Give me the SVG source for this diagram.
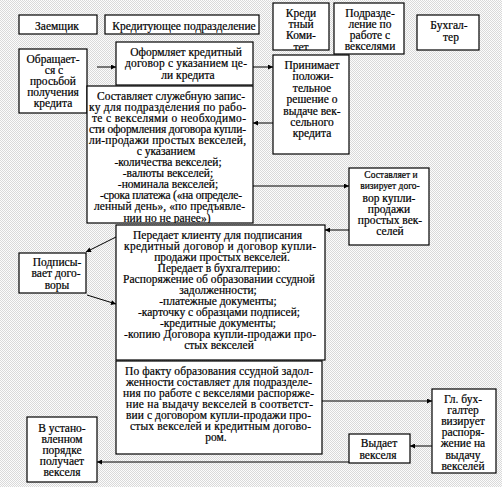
<svg xmlns="http://www.w3.org/2000/svg" width="502" height="487" viewBox="0 0 502 487">
<defs>
<pattern id="bg" width="2" height="2" patternUnits="userSpaceOnUse">
<rect width="2" height="2" fill="#fcfcfc"/>
<rect width="1" height="1" fill="#d9d9d9"/>
<rect x="1" y="1" width="1" height="1" fill="#d9d9d9"/>
</pattern>
<marker id="ah" viewBox="0 0 10 10" refX="10" refY="5" markerWidth="7" markerHeight="5" markerUnits="userSpaceOnUse" orient="auto">
<path d="M0,0 L10,5 L0,10 z" fill="#000"/>
</marker>
<clipPath id="ckk"><rect x="273" y="3" width="56" height="47"/></clipPath>
<clipPath id="csz"><rect x="87" y="86" width="166" height="137"/></clipPath>
</defs>
<style>
.b{fill:#fff;stroke:#000;stroke-width:1.2}
text{font-family:"Liberation Serif","Times New Roman",serif;font-size:11.5px;fill:#000;stroke:#000;stroke-width:0.2;dominant-baseline:central;text-anchor:middle}
text.j{text-anchor:start}
.s{font-size:9.5px}
.c line{stroke:#000;stroke-width:1;fill:none;marker-end:url(#ah)}
</style>
<rect width="502" height="487" fill="url(#bg)"/>

<g id="h1"><rect class="b" x="19" y="15" width="78" height="19"/><text x="57" y="26">Заемщик</text></g>
<g id="h2"><rect class="b" x="105" y="15" width="154" height="19"/><text x="184" y="26">Кредитующее подразделение</text></g>
<g id="h3"><rect class="b" x="273" y="3" width="56" height="47"/>
<g clip-path="url(#ckk)"><text x="301" y="13">Креди</text><text x="301" y="24">тный</text><text x="301" y="35">Коми-</text><text x="301" y="47">тет</text></g></g>
<g id="h4"><rect class="b" x="334" y="3" width="70" height="51"/>
<text x="370" y="13">Подразде-</text><text x="370" y="24">ление по</text><text x="370" y="35">работе с</text><text x="370" y="46">векселями</text></g>
<g id="h5"><rect class="b" x="417" y="15" width="62" height="35"/><text x="449" y="25">Бухгал-</text><text x="451" y="37">тер</text></g>

<g id="n1"><rect class="b" x="19" y="49" width="68" height="64"/>
<text x="53" y="59">Обращает-</text><text x="54" y="70">ся с</text><text x="53" y="81">просьбой</text><text x="53" y="92">получения</text><text x="53" y="103">кредита</text></g>
<g id="n2"><rect class="b" x="116" y="42" width="137" height="43"/>
<text x="186" y="52">Оформляет кредитный</text><text class="j" x="125" y="63" textLength="122">договор с указанием це-</text><text x="188" y="74.5">ли кредита</text></g>
<g id="n3"><rect class="b" x="273" y="55" width="76" height="99"/>
<text x="312" y="65">Принимает</text><text x="313" y="76">положи-</text><text x="312" y="87.5">тельное</text><text x="312" y="99">решение о</text><text x="312" y="110.5">выдаче век-</text><text x="312" y="122">сельного</text><text x="312" y="133">кредита</text></g>
<g id="n4"><rect class="b" x="87" y="86" width="166" height="137"/>
<g clip-path="url(#csz)">
<text class="j" x="97" y="96" textLength="148">Составляет служебную запис-</text>
<text class="j" x="89" y="107" textLength="157">ку для подразделения по рабо-</text>
<text class="j" x="92" y="118" textLength="154">те с векселями о необходимо-</text>
<text class="j" x="89" y="129" textLength="157">сти оформления договора купли-</text>
<text class="j" x="89" y="140" textLength="157">ли-продажи простых векселей,</text>
<text x="166" y="151">с указанием</text>
<text x="168" y="162">-количества векселей;</text>
<text x="168" y="173">-валюты векселей;</text>
<text x="168" y="184">-номинала векселей;</text>
<text class="j" x="100" y="195" textLength="142">-срока платежа («на определе-</text>
<text class="j" x="94" y="206" textLength="151">ленный день», «по предъявле-</text>
<text x="167" y="217.5">нии но не ранее»)</text></g></g>
<g id="n5"><rect class="b" x="349" y="168" width="80" height="77"/>
<text class="s" x="391" y="175">Составляет и</text><text class="s" x="390" y="186">визирует дого-</text><text x="389" y="197.5">вор купли-</text><text x="389" y="208.5">продажи</text><text x="390" y="219.5">простых век-</text><text x="390" y="230.5">селей</text></g>
<g id="n6"><rect class="b" x="116" y="225" width="209" height="135"/>
<text class="j" x="133" y="235" textLength="169">Передает клиенту для подписания</text>
<text class="j" x="124" y="246" textLength="192">кредитный договор и договор купли-</text>
<text x="222" y="257">продажи простых векселей.</text>
<text x="219" y="268">Передает в бухгалтерию:</text>
<text class="j" x="123" y="279" textLength="192">Распоряжение об образовании ссудной</text>
<text x="218" y="290">задолженности;</text>
<text x="218" y="301">-платежные документы;</text>
<text x="219" y="312">-карточку с образцами подписей;</text>
<text x="218" y="323">-кредитные документы;</text>
<text class="j" x="124" y="334" textLength="192">-копию Договора купли-продажи про-</text>
<text x="219" y="345">стых векселей</text></g>
<g id="n7"><rect class="b" x="19" y="253" width="67" height="40"/>
<text x="57" y="262">Подписы-</text><text x="56" y="273">вает дого-</text><text x="57" y="284.5">воры</text></g>
<g id="n8"><rect class="b" x="116" y="361" width="206" height="93"/>
<text class="j" x="125" y="371" textLength="188">По факту образования ссудной задол-</text>
<text class="j" x="126" y="382" textLength="186">женности составляет для подразделе-</text>
<text class="j" x="123" y="393" textLength="191">ния по работе с векселями распоряже-</text>
<text class="j" x="126" y="404" textLength="187">ние на выдачу векселей в соответст-</text>
<text class="j" x="126" y="415" textLength="185">вии с договором купли-продажи про-</text>
<text class="j" x="130" y="426" textLength="181">стых векселей и кредитным догово-</text>
<text x="216" y="437">ром.</text></g>
<g id="n9"><rect class="b" x="432" y="389" width="64" height="84"/>
<text x="463" y="398.5">Гл. бух-</text><text x="463" y="409.5">галтер</text><text x="463" y="420.5">визирует</text><text x="463" y="431.5">распоря-</text><text x="463" y="443">жение на</text><text x="463" y="454.5">выдачу</text><text x="463" y="466">векселей</text></g>
<g id="n10"><rect class="b" x="349" y="434" width="61" height="29"/>
<text x="379" y="443">Выдает</text><text x="378" y="454.5">векселя</text></g>
<g id="n11"><rect class="b" x="27" y="417" width="70" height="65"/>
<text x="62" y="427.5">В устано-</text><text x="62" y="438.5">вленном</text><text x="62" y="449.5">порядке</text><text x="62" y="460.5">получает</text><text x="62" y="471.5">векселя</text></g>

<g id="connectors" class="c">
<line x1="97" y1="67" x2="116" y2="67"/>
<line x1="253" y1="67" x2="273" y2="67"/>
<line x1="273" y1="123" x2="253" y2="123"/>
<line x1="253" y1="186" x2="349" y2="186"/>
<line x1="349" y1="230" x2="325" y2="230"/>
<line x1="116" y1="237" x2="86" y2="252"/>
<line x1="87" y1="295" x2="116" y2="304"/>
<line x1="322" y1="401" x2="432" y2="401"/>
<line x1="432" y1="446" x2="410" y2="446"/>
<line x1="349" y1="462" x2="97" y2="462"/>
</g>
</svg>
